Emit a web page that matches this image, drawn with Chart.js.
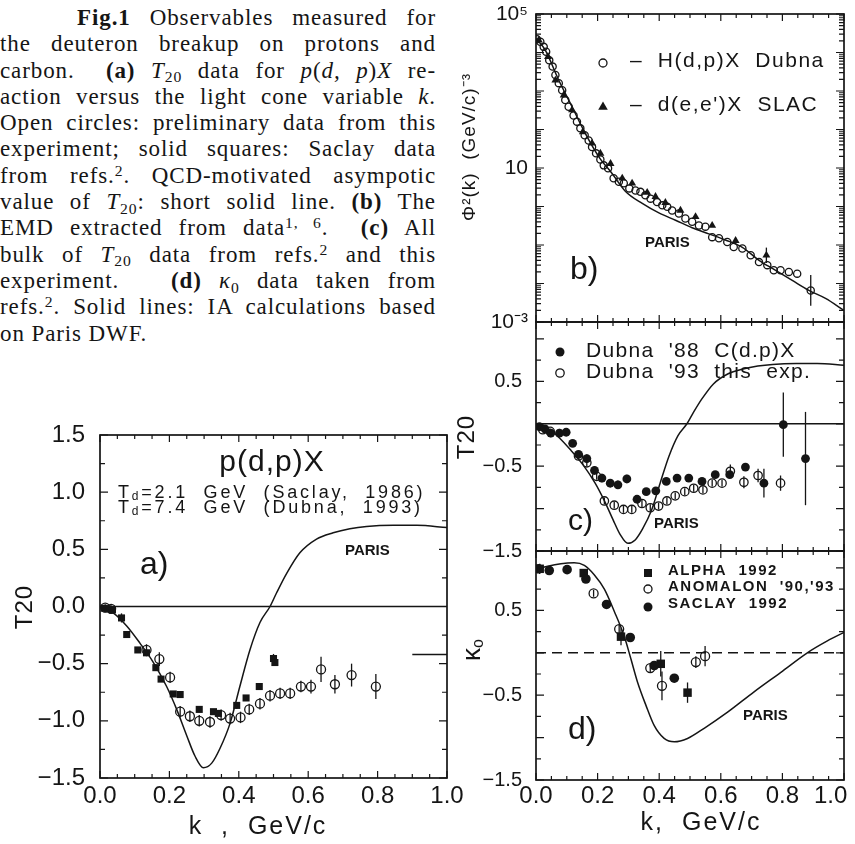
<!DOCTYPE html>
<html>
<head>
<meta charset="utf-8">
<script src="https://cdn.jsdelivr.net/npm/chart.js@4.4.0/dist/chart.umd.min.js"></script>
<style>
  body { margin: 0; background: #fff; width: 855px; height: 844px; position: relative; overflow: hidden; }
  #cap { position: absolute; left: 0; top: 5px; width: 436px; font-family: "Liberation Serif", serif; font-size: 23px;
         line-height: 26.3px; color: #151515; letter-spacing: 0.9px; }
  #cap div { text-align: justify; text-align-last: justify; }
  #cap div.last { text-align-last: left; }
  #cap sub, #cap sup { font-size: 0.68em; line-height: 0; position: relative; vertical-align: baseline; }
  #cap sub { top: 0.3em; }
  #cap sup { top: -0.45em; }
  canvas { position: absolute; }
</style>
</head>
<body>
<div id="cap">
  <div style="padding-left:77px"><b>Fig.1</b> Observables measured for</div>
  <div>the deuteron breakup on protons and</div>
  <div>carbon. &nbsp;<b>(a)</b> <i>T</i><sub>20</sub> data for <i>p</i>(<i>d, p</i>)<i>X</i> re-</div>
  <div>action versus the light cone variable <i>k</i>.</div>
  <div>Open circles: preliminary data from this</div>
  <div>experiment; solid squares: Saclay data</div>
  <div>from refs.<sup>2</sup>. QCD-motivated asympotic</div>
  <div>value of <i>T</i><sub>20</sub>: short solid line. <b>(b)</b> The</div>
  <div>EMD extracted from data<sup>1, 6</sup>. &nbsp;<b>(c)</b> All</div>
  <div>bulk of <i>T</i><sub>20</sub> data from refs.<sup>2</sup> and this</div>
  <div>experiment. &nbsp; <b>(d)</b> <i>κ</i><sub>0</sub> data taken from</div>
  <div>refs.<sup>2</sup>. Solid lines: IA calculations based</div>
  <div class="last">on Paris DWF.</div>
</div>

<canvas id="pa" width="470" height="419" style="left:0;top:425px"></canvas>
<canvas id="pb" width="400" height="335" style="left:455px;top:0"></canvas>
<canvas id="pc" width="400" height="255" style="left:455px;top:310px"></canvas>
<canvas id="pd" width="400" height="304" style="left:455px;top:540px"></canvas>

<script>
"use strict";
const INK = "#151515";

// ---- a) T20 for p(d,p)X ----
const aDubnaK = [0.015, 0.032, 0.134, 0.171, 0.202, 0.231, 0.259, 0.286, 0.317, 0.349, 0.375, 0.405, 0.430, 0.461, 0.490, 0.519, 0.548, 0.579, 0.608, 0.637, 0.677, 0.725, 0.795];
const aDubnaT = [-0.01, -0.02, -0.38, -0.46, -0.62, -0.92, -0.96, -1.00, -1.01, -0.95, -0.98, -0.97, -0.90, -0.85, -0.78, -0.76, -0.76, -0.70, -0.70, -0.55, -0.68, -0.60, -0.70];
const aDubnaErr = [0.03, 0.03, 0.05, 0.06, 0.05, 0.05, 0.05, 0.05, 0.05, 0.05, 0.05, 0.05, 0.05, 0.05, 0.05, 0.05, 0.05, 0.05, 0.06, 0.11, 0.08, 0.10, 0.11];
const aSaclayK = [0.012, 0.021, 0.036, 0.062, 0.077, 0.109, 0.134, 0.161, 0.176, 0.211, 0.231, 0.286, 0.327, 0.341, 0.394, 0.421, 0.459, 0.500, 0.504];
const aSaclayT = [-0.015, -0.02, -0.03, -0.10, -0.245, -0.38, -0.405, -0.535, -0.635, -0.765, -0.77, -0.90, -0.92, -0.935, -0.865, -0.80, -0.70, -0.455, -0.49];
const aSaclayErr = [0, 0, 0, 0.04, 0, 0, 0.03, 0.03, 0, 0, 0, 0, 0, 0, 0.03, 0, 0.03, 0.04, 0.03];
// Paris IA curve for T20 (used in a and c)
const parisTK = [0, 0.038, 0.077, 0.115, 0.154, 0.192, 0.221, 0.25, 0.274, 0.298, 0.322, 0.346, 0.375, 0.403, 0.432, 0.461, 0.49, 0.509, 0.538, 0.576, 0.624, 0.672, 0.72, 0.768, 0.845, 0.913, 1.0];
const parisT = [0, -0.055, -0.17, -0.32, -0.49, -0.70, -0.90, -1.13, -1.31, -1.41, -1.37, -1.24, -1.02, -0.70, -0.38, -0.14, 0.0, 0.12, 0.29, 0.47, 0.59, 0.645, 0.68, 0.70, 0.71, 0.71, 0.69];
const zeroK = [0, 1], zeroT = [0, 0];
const qcdK = [0.9, 1.0], qcdT = [-0.42, -0.42];

// ---- b) momentum density ----
const bDubnaK = [0.003, 0.014, 0.025, 0.033, 0.043, 0.054, 0.063, 0.074, 0.085, 0.095, 0.106, 0.122, 0.133, 0.144, 0.158, 0.171, 0.182, 0.195, 0.209, 0.220, 0.234, 0.252, 0.269, 0.285, 0.303, 0.323, 0.339, 0.355, 0.372, 0.393, 0.410, 0.426, 0.442, 0.464, 0.485, 0.507, 0.529, 0.550, 0.572, 0.594, 0.621, 0.642, 0.670, 0.697, 0.724, 0.751, 0.772, 0.794, 0.821, 0.848, 0.892];
const bDubnaPhi = [2.2e4, 1.9e4, 1.4e4, 1.05e4, 6.3e3, 4.3e3, 2.6e3, 1.6e3, 1.05e3, 580, 390, 230, 160, 107, 71, 52, 35, 24, 16.6, 11.7, 9.8, 5.4, 4.4, 4.0, 2.95, 2.6, 2.4, 1.95, 1.6, 1.3, 1.07, 0.98, 0.79, 0.66, 0.49, 0.40, 0.32, 0.30, 0.16, 0.15, 0.12, 0.089, 0.081, 0.054, 0.036, 0.030, 0.022, 0.022, 0.020, 0.018, 0.0066];
const bDubnaErr = bDubnaK.map((k, i) => (i === bDubnaK.length - 1 ? 0.4 : 0));
const bSlacK = [0.009, 0.039, 0.063, 0.090, 0.117, 0.152, 0.182, 0.209, 0.242, 0.280, 0.312, 0.361, 0.388, 0.420, 0.469, 0.518, 0.572, 0.648, 0.748];
const bSlacPhi = [2.1e4, 7.8e3, 1.9e3, 780, 320, 87, 44, 24, 13, 5.4, 4.0, 2.3, 1.8, 1.26, 0.79, 0.54, 0.32, 0.13, 0.054];
const bSlacErr = [0, 0, 0, 0, 0, 0, 0, 0, 0, 0, 0, 0, 0, 0, 0, 0, 0, 0.08, 0.2];
const parisPhiK = [0, 0.030, 0.074, 0.117, 0.160, 0.204, 0.247, 0.290, 0.345, 0.399, 0.453, 0.507, 0.561, 0.615, 0.670, 0.724, 0.778, 0.832, 0.886, 0.940, 1.0];
const parisPhi = [2.3e4, 1.15e4, 1.9e3, 390, 79, 19.5, 7.2, 2.5, 1.2, 0.68, 0.44, 0.28, 0.195, 0.135, 0.087, 0.040, 0.022, 0.012, 0.0066, 0.0041, 0.0020];

// ---- c) T20 on carbon ----
const cD88K = [0.011, 0.029, 0.048, 0.076, 0.098, 0.119, 0.138, 0.165, 0.190, 0.214, 0.241, 0.266, 0.295, 0.328, 0.358, 0.389, 0.423, 0.458, 0.496, 0.539, 0.582, 0.629, 0.680, 0.740, 0.803, 0.875];
const cD88T = [-0.035, -0.06, -0.11, -0.11, -0.10, -0.23, -0.36, -0.41, -0.55, -0.64, -0.70, -0.72, -0.65, -0.89, -0.80, -0.79, -0.68, -0.64, -0.64, -0.68, -0.60, -0.60, -0.51, -0.70, -0.01, -0.41];
const cD88Err = [0.02, 0.03, 0.05, 0.05, 0.04, 0.04, 0.04, 0.05, 0.05, 0.05, 0.05, 0.05, 0.05, 0.03, 0.03, 0.03, 0.03, 0.03, 0.03, 0.03, 0.03, 0.03, 0.03, 0.17, 0.38, 0.55];
const cD93K = [0.022, 0.046, 0.138, 0.165, 0.197, 0.222, 0.254, 0.284, 0.311, 0.344, 0.371, 0.398, 0.425, 0.452, 0.483, 0.512, 0.542, 0.572, 0.604, 0.631, 0.675, 0.721, 0.794];
const cD93T = [-0.07, -0.09, -0.38, -0.46, -0.62, -0.91, -0.96, -1.01, -1.01, -0.94, -0.99, -0.97, -0.91, -0.85, -0.80, -0.76, -0.78, -0.70, -0.70, -0.56, -0.69, -0.61, -0.70];
const cD93Err = [0.03, 0.03, 0.04, 0.04, 0.04, 0.04, 0.04, 0.04, 0.04, 0.04, 0.04, 0.04, 0.04, 0.04, 0.04, 0.04, 0.04, 0.04, 0.04, 0.08, 0.07, 0.08, 0.09];

// ---- d) kappa0 ----
const dAlphaK = [0.012, 0.155, 0.276, 0.405, 0.492];
const dAlphaV = [0.99, 0.94, 0.19, -0.13, -0.47];
const dAlphaErr = [0.06, 0.04, 0.10, 0.15, 0.12];
const dAnomK = [0.187, 0.270, 0.371, 0.409, 0.519, 0.549];
const dAnomV = [0.70, 0.28, -0.18, -0.39, -0.11, -0.04];
const dAnomErr = [0.04, 0.05, 0.05, 0.17, 0.07, 0.12];
const dSaclayK = [0.008, 0.043, 0.101, 0.162, 0.229, 0.306, 0.384, 0.449];
const dSaclayV = [0.99, 0.97, 0.98, 0.87, 0.57, 0.18, -0.15, -0.30];
const dSaclayErr = [0.05, 0, 0, 0, 0, 0, 0, 0];
const parisKapK = [0, 0.038, 0.081, 0.124, 0.157, 0.189, 0.222, 0.254, 0.286, 0.308, 0.330, 0.357, 0.384, 0.416, 0.449, 0.492, 0.546, 0.622, 0.708, 0.795, 0.881, 0.946, 1.0];
const parisKap = [0.98, 1.02, 1.05, 1.06, 1.03, 0.92, 0.75, 0.49, 0.20, -0.07, -0.35, -0.62, -0.86, -1.01, -1.05, -1.01, -0.89, -0.70, -0.46, -0.23, 0.0, 0.14, 0.24];

const pts = (xs, ys) => xs.map((x, i) => ({ x: x, y: ys[i] }));
const fmt = v => (Math.abs(v) < 1e-9 ? 0 : v).toFixed(1).replace("-", "\u2212");
const SANS = "'Liberation Sans', Arial, sans-serif";

function linTicks(min, max, step, major) {
  const out = [];
  for (let i = 0; min + i * step <= max + 1e-9; i++) {
    const v = min + i * step;
    out.push([v, Math.abs(v / major - Math.round(v / major)) < 1e-6]);
  }
  return out;
}
function logTicks(e0, e1) {
  const out = [];
  for (let e = e0; e < e1; e++) for (let m = 1; m <= 9; m++) out.push([m * Math.pow(10, e), m === 1]);
  out.push([Math.pow(10, e1), true]);
  return out;
}

// box + inward ticks on all sides
const frame = {
  id: "frame",
  afterDatasetsDraw(chart, args, o) {
    const { ctx, chartArea: a, scales: { x, y } } = chart;
    ctx.save();
    ctx.strokeStyle = INK;
    ctx.lineWidth = 1.2;
    ctx.beginPath();
    for (const [v, maj] of o.xt) {
      const p = x.getPixelForValue(v), L = maj ? 7 : 4;
      ctx.moveTo(p, a.bottom); ctx.lineTo(p, a.bottom - L);
      ctx.moveTo(p, a.top); ctx.lineTo(p, a.top + L);
    }
    for (const [v, maj] of o.yt) {
      const p = y.getPixelForValue(v), L = maj ? 8 : 5;
      ctx.moveTo(a.left, p); ctx.lineTo(a.left + L, p);
      ctx.moveTo(a.right, p); ctx.lineTo(a.right - L, p);
    }
    ctx.stroke();
    ctx.lineWidth = 1.7;
    ctx.strokeRect(a.left, a.top, a.right - a.left, a.bottom - a.top);
    ctx.restore();
  }
};

// vertical error bars (err in data units, or in decades on a log axis)
const errBars = {
  id: "errBars",
  afterDatasetsDraw(chart) {
    const ctx = chart.ctx, ys = chart.scales.y, isLog = ys.type === "logarithmic";
    ctx.save();
    ctx.strokeStyle = INK;
    ctx.lineWidth = 1.3;
    chart.data.datasets.forEach((ds, i) => {
      if (!ds.err) return;
      chart.getDatasetMeta(i).data.forEach((p, j) => {
        const e = ds.err[j], v = ds.data[j].y;
        if (!e) return;
        const hi = isLog ? v * Math.pow(10, e) : v + e;
        const lo = isLog ? v / Math.pow(10, e) : v - e;
        ctx.beginPath();
        ctx.moveTo(p.x, ys.getPixelForValue(hi));
        ctx.lineTo(p.x, ys.getPixelForValue(lo));
        ctx.stroke();
      });
    });
    ctx.restore();
  }
};

function mark(ctx, kind, x, y, r) {
  ctx.beginPath();
  if (kind === "tri") {
    ctx.moveTo(x, y - r); ctx.lineTo(x + r * 0.87, y + r * 0.5); ctx.lineTo(x - r * 0.87, y + r * 0.5); ctx.closePath(); ctx.fill();
  } else if (kind === "square") {
    ctx.fillRect(x - r, y - r, 2 * r, 2 * r);
  } else {
    ctx.arc(x, y, r, 0, 2 * Math.PI);
    if (kind === "disc") ctx.fill(); else ctx.stroke();
  }
}

// labels, legends and axis titles inside each canvas
const notes = {
  id: "notes",
  afterDraw(chart, args, o) {
    const ctx = chart.ctx;
    for (const it of o.items) {
      ctx.save();
      ctx.fillStyle = INK;
      ctx.strokeStyle = INK;
      ctx.lineWidth = 1.3;
      if (it.mark) { mark(ctx, it.mark, it.x, it.y, it.r); ctx.restore(); continue; }
      ctx.translate(it.x, it.y);
      if (it.rot) ctx.rotate(it.rot);
      ctx.textBaseline = "middle";
      ctx.letterSpacing = it.ls || "0px";
      const segs = it.segs || [[it.t, it.font, 0]];
      let w = 0;
      for (const s of segs) { ctx.font = s[1]; w += ctx.measureText(s[0]).width; }
      let cx = it.align === "center" ? -w / 2 : 0;
      for (const s of segs) {
        ctx.font = s[1];
        ctx.fillText(s[0], cx, s[2]);
        cx += ctx.measureText(s[0]).width;
      }
      ctx.restore();
    }
  }
};

function openSet(xs, ys, err, r) {
  return { data: pts(xs, ys), err: err, pointStyle: "circle", pointRadius: r, borderWidth: 1.3,
           borderColor: INK, backgroundColor: "rgba(0,0,0,0)" };
}
function solidSet(xs, ys, err, style, r) {
  return { data: pts(xs, ys), err: err, pointStyle: style, pointRadius: r, borderWidth: 0,
           borderColor: INK, backgroundColor: INK };
}
function lineSet(xs, ys, dash) {
  return { data: pts(xs, ys), showLine: true, pointRadius: 0, borderColor: INK, borderWidth: 1.5,
           borderDash: dash || [], cubicInterpolationMode: "monotone", fill: false };
}

// fixed axis size, and no extra room for half labels at the ends
function fixSize(key, size) {
  return s => {
    s[key] = size;
    s.paddingLeft = s.paddingRight = s.paddingTop = s.paddingBottom = 0;
  };
}

function xAxis(h, labels, pad, lastShift) {
  return {
    type: "linear", min: 0, max: 1,
    grid: { display: false, drawTicks: false }, border: { display: false },
    ticks: { display: labels, stepSize: 0.2, padding: pad || 0, color: INK, font: { family: SANS, size: 24 },
             // the last label sits a little left so it stays on the page
             callback: v => fmt(v) + (lastShift && v >= 1 ? "\u2007\u2007" : ""), maxRotation: 0, autoSkip: false },
    afterFit: fixSize("height", h)
  };
}
function yAxis(min, max, w, fixed, size, pad) {
  return {
    type: "linear", min: min, max: max,
    grid: { display: false, drawTicks: false }, border: { display: false },
    ticks: { stepSize: 0.5, padding: pad, color: INK, font: { family: SANS, size: size }, callback: v => fmt(v), autoSkip: false },
    afterBuildTicks: fixed ? s => { s.ticks = fixed.map(v => ({ value: v })); } : undefined,
    afterFit: fixSize("width", w)
  };
}

function makeChart(id, datasets, scales, padding, xt, yt, items) {
  return new Chart(document.getElementById(id), {
    type: "scatter",
    data: { datasets: datasets },
    options: {
      responsive: false, animation: false, events: [],
      layout: { padding: padding, autoPadding: false },
      scales: scales,
      plugins: { legend: { display: false }, tooltip: { enabled: false },
                 frame: { xt: xt, yt: yt }, notes: { items: items } }
    },
    plugins: [errBars, frame, notes]
  });
}

const xt = linTicks(0, 1, 0.05, 0.2);
const F = (sz, w) => (w || "") + " " + sz + "px " + SANS;

// panel a
makeChart("pa", [
  lineSet(zeroK, zeroT),
  lineSet(qcdK, qcdT),
  lineSet(parisTK, parisT),
  solidSet(aSaclayK, aSaclayT, aSaclayErr, "rect", 5),
  openSet(aDubnaK, aDubnaT, aDubnaErr, 4.5)
], {
  x: xAxis(66, true, 4),
  y: yAxis(-1.5, 1.5, 100, null, 24, 15)
}, { left: 0, top: 10, right: 23, bottom: 0 }, xt, linTicks(-1.5, 1.5, 0.25, 0.5), [
  { t: "p(d,p)X", x: 272, y: 38, font: F(30), align: "center", ls: "1px" },
  { segs: [["T", F(18), 0], ["d", F(12), 4], ["=2.1  GeV  (Saclay,  1986)", F(18), 0]], x: 118, y: 68, ls: "2.8px" },
  { segs: [["T", F(18), 0], ["d", F(12), 4], ["=7.4  GeV  (Dubna,  1993)", F(18), 0]], x: 118, y: 83, ls: "2.8px" },
  { t: "a)", x: 140, y: 140, font: F(32) },
  { t: "PARIS", x: 345, y: 126, font: F(15, "bold") },
  { t: "T20", x: 25, y: 182, font: F(24), align: "center", rot: -Math.PI / 2, ls: "1px" },
  { t: "k  ,  GeV/c", x: 258, y: 402, font: F(25), align: "center", ls: "2px" }
]);

// panel b
makeChart("pb", [
  lineSet(parisPhiK, parisPhi),
  solidSet(bSlacK, bSlacPhi, bSlacErr, "triangle", 4.6),
  openSet(bDubnaK, bDubnaPhi, bDubnaErr, 3.6)
], {
  x: xAxis(13, false),
  y: {
    type: "logarithmic", min: 1e-3, max: 1e5,
    grid: { display: false, drawTicks: false }, border: { display: false },
    ticks: { padding: 8, color: INK, font: { family: SANS, size: 21 }, autoSkip: false,
             callback: v => (v >= 1e5 ? "10\u2075" : v <= 1e-3 ? "10\u207B\u00B3" : "10") },
    afterBuildTicks: s => { s.ticks = [1e-3, 10, 1e5].map(v => ({ value: v })); },
    afterFit: fixSize("width", 81)
  }
}, { left: 0, top: 14, right: 11, bottom: 0 }, xt, logTicks(-3, 5), [
  { mark: "circle", x: 148, y: 63, r: 4 },
  { t: "\u2013  H(d,p)X  Dubna", x: 175, y: 61, font: F(21), ls: "1.5px" },
  { mark: "tri", x: 148, y: 107, r: 5.5 },
  { t: "\u2013  d(e,e')X  SLAC", x: 175, y: 105, font: F(21), ls: "1.5px" },
  { t: "PARIS", x: 190, y: 243, font: F(15, "bold") },
  { t: "b)", x: 115, y: 270, font: F(32) },
  { t: "\u03A6\u00B2(k)  (GeV/c)\u207B\u00B3", x: 15, y: 147, font: F(19), align: "center", rot: -Math.PI / 2, ls: "1px" }
]);

// panel c
makeChart("pc", [
  lineSet(zeroK, zeroT),
  lineSet(parisTK, parisT),
  solidSet(cD88K, cD88T, cD88Err, "circle", 4.4),
  openSet(cD93K, cD93T, cD93Err, 4.2)
], {
  x: xAxis(14, false),
  y: yAxis(-1.5, 1.2, 81, [-1.5, -0.5, 0.5], 20, 14)
}, { left: 0, top: 12, right: 11, bottom: 0 }, xt, linTicks(-1.5, 1.2, 0.25, 0.5), [
  { mark: "disc", x: 105, y: 42, r: 4.5 },
  { t: "Dubna  '88  C(d.p)X", x: 131, y: 41, font: F(21), ls: "1.3px" },
  { mark: "circle", x: 105, y: 63, r: 4.2 },
  { t: "Dubna  '93  this  exp.", x: 131, y: 62, font: F(21), ls: "1.3px" },
  { t: "c)", x: 113, y: 212, font: F(30) },
  { t: "PARIS", x: 199, y: 214, font: F(15, "bold") },
  { t: "T20", x: 12, y: 127, font: F(24), align: "center", rot: -Math.PI / 2, ls: "1px" }
]);

// panel d
makeChart("pd", [
  lineSet(zeroK, zeroT, [10, 6]),
  lineSet(parisKapK, parisKap),
  solidSet(dSaclayK, dSaclayV, dSaclayErr, "circle", 4.8),
  openSet(dAnomK, dAnomV, dAnomErr, 4.5),
  solidSet(dAlphaK, dAlphaV, dAlphaErr, "rect", 6)
], {
  x: xAxis(64, true, 2, true),
  y: yAxis(-1.5, 1.2, 81, [-1.5, -0.5, 0.5], 20, 14)
}, { left: 0, top: 11, right: 11, bottom: 0 }, xt, linTicks(-1.5, 1.2, 0.25, 0.5), [
  { mark: "square", x: 193, y: 33, r: 4 },
  { t: "ALPHA  1992", x: 213, y: 31, font: F(15, "bold"), ls: "1.5px" },
  { mark: "circle", x: 193, y: 49, r: 4 },
  { t: "ANOMALON  '90,'93", x: 213, y: 47, font: F(15, "bold"), ls: "1.5px" },
  { mark: "disc", x: 193, y: 67, r: 4.5 },
  { t: "SACLAY  1992", x: 213, y: 64, font: F(15, "bold"), ls: "1.5px" },
  { t: "d)", x: 113, y: 190, font: F(32) },
  { t: "PARIS", x: 288, y: 176, font: F(15, "bold") },
  { segs: [["\u03BA", F(26), 0], ["o", F(16), 6]], x: 18, y: 110, align: "center", rot: -Math.PI / 2 },
  { t: "k,  GeV/c", x: 246, y: 283, font: F(25), align: "center", ls: "2px" }
]);
</script>
</body>
</html>
